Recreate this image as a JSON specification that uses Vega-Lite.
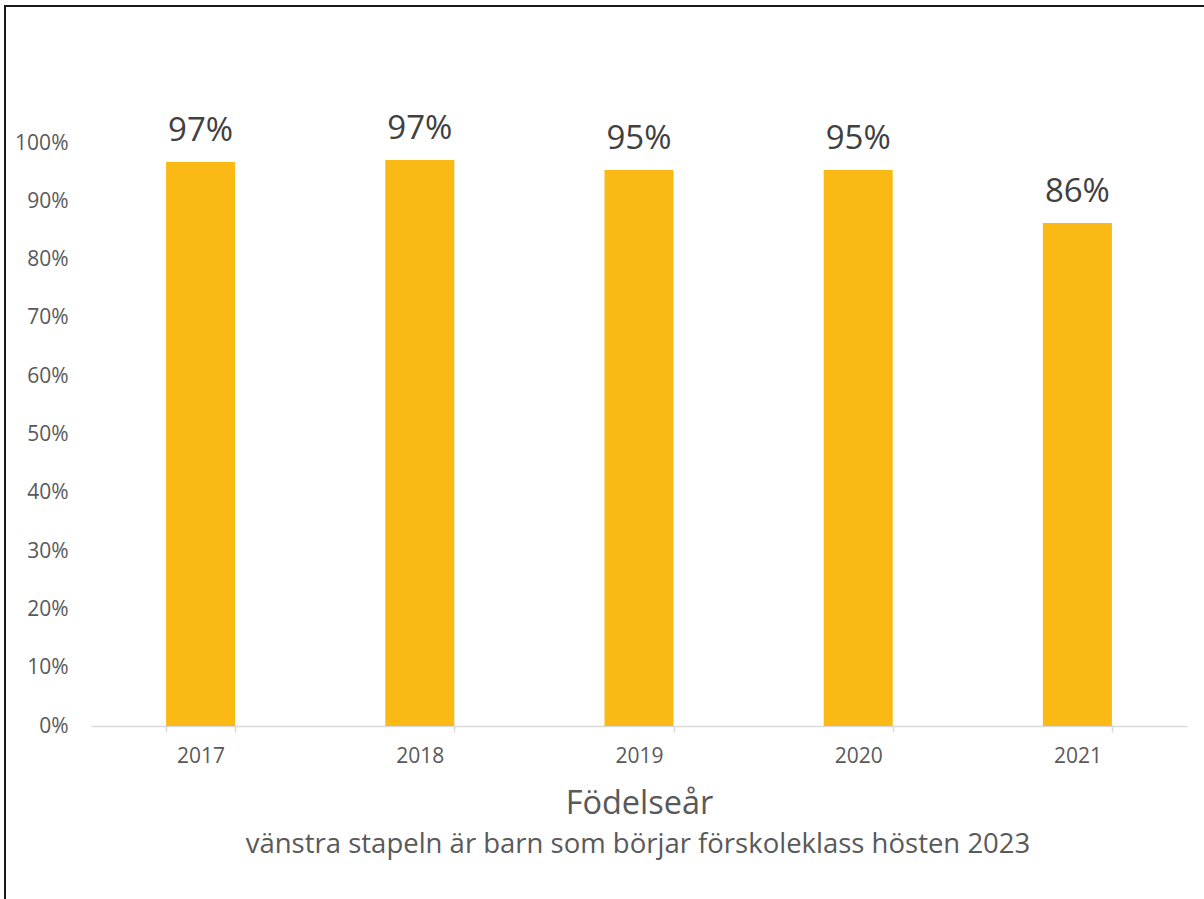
{
  "$schema": "https://vega.github.io/schema/vega-lite/v6.json",
  "autosize": {"type": "none"},
  "padding": {"left": 5, "top": 6, "right": 0, "bottom": 0},
  "width": 1200,
  "height": 894,
  "background": "white",
  "view": {"stroke": "#1a1a1a", "strokeWidth": 2},
  "config": {"font": "Open Sans"},
  "title": {
    "text": "vänstra stapeln är barn som börjar förskoleklass hösten 2023",
    "orient": "bottom", "frame": "group", "anchor": "middle",
    "offset": -47, "baseline": "alphabetic", "dx": 33,
    "fontSize": 27.5, "fontWeight": "normal", "color": "#595959"
  },
  "data": {"values": [
    {"year": "2017", "share": 0.9674},
    {"year": "2018", "share": 0.9708},
    {"year": "2019", "share": 0.9537},
    {"year": "2020", "share": 0.9537},
    {"year": "2021", "share": 0.8628}
  ]},
  "encoding": {
    "x": {
      "field": "year", "type": "nominal",
      "scale": {"range": [86, 1182], "paddingInner": 0.685, "paddingOuter": 0.3425},
      "axis": {
        "orient": "bottom", "offset": -174, "labelAngle": 0,
        "tickBand": "extent", "tickSize": 6, "tickColor": "#d9d9d9", "tickWidth": 1.5,
        "domainColor": "#d9d9d9", "domainWidth": 1.5,
        "labelFontSize": 21, "labelColor": "#595959", "labelBaseline": "alphabetic", "labelPadding": 30,
        "title": "Födelseår", "titleFontSize": 32.5, "titleFontWeight": "normal", "titleColor": "#595959",
        "titleBaseline": "alphabetic", "titleY": 87
      }
    },
    "y": {
      "field": "share", "type": "quantitative",
      "scale": {"domain": [0, 1], "range": [720, 137], "nice": false},
      "axis": {
        "offset": -86, "domain": false, "ticks": false, "tickSize": 0, "grid": false,
        "values": [0, 0.1, 0.2, 0.3, 0.4, 0.5, 0.6, 0.7, 0.8, 0.9, 1],
        "format": ".0%", "labelFontSize": 21, "labelColor": "#595959", "labelPadding": 23,
        "title": null
      }
    }
  },
  "layer": [
    {"mark": {"type": "bar", "color": "#FBB916"}},
    {
      "mark": {"type": "text", "baseline": "alphabetic", "dy": -21, "fontSize": 33, "color": "#404040"},
      "encoding": {"text": {"field": "share", "type": "quantitative", "format": ".0%"}}
    }
  ]
}
